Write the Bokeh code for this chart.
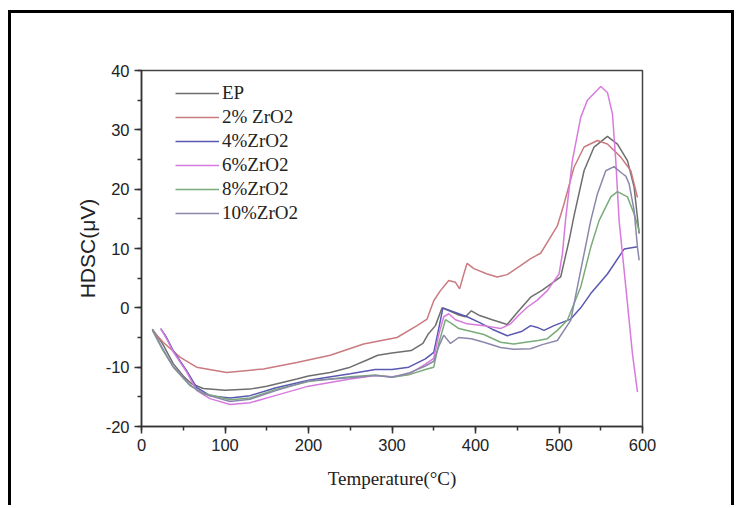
from bokeh.plotting import figure
from bokeh.models import Range1d, SingleIntervalTicker, Legend, LegendItem, PrintfTickFormatter
from bokeh.embed import file_html
from bokeh.resources import INLINE

series_names = ["EP", "2% ZrO2", "4%ZrO2", "6%ZrO2", "8%ZrO2", "10%ZrO2"]
series_colors = ["#6e6e6e", "#c97b80", "#5a58b2", "#d77ade", "#7aab7a", "#8a88aa"]

ep_t = [13, 25, 38, 50, 60, 74, 100, 130, 150, 186, 200, 226, 250, 270, 283, 300, 323, 337, 343, 352,
        360, 370, 380, 388, 395, 405, 420, 438, 450, 466, 480, 490, 502, 512, 518, 530, 542, 558, 570,
        582, 590, 596]
ep_v = [-3.6, -6.0, -9.4, -11.5, -12.8, -13.6, -13.9, -13.7, -13.2, -12.0, -11.5, -10.9, -10.0, -8.8,
        -8.0, -7.6, -7.2, -6.0, -4.5, -3.0, 0.0, -0.6, -1.2, -1.5, -0.5, -1.3, -2.0, -2.8, -0.8, 1.8,
        3.0, 4.0, 5.2, 11.3, 15.5, 23.1, 27.1, 28.9, 27.6, 24.8, 20.3, 12.5]

zr2_t = [13, 26, 46, 66, 102, 146, 186, 226, 266, 306, 330, 342, 350, 358, 368, 376, 381, 386, 390, 398,
         414, 426, 438, 454, 466, 478, 488, 498, 506, 518, 530, 546, 558, 574, 586, 594]
zr2_v = [-3.8, -5.8, -8.3, -10.0, -10.9, -10.3, -9.2, -8.0, -6.1, -5.0, -3.0, -1.9, 1.2, 2.9, 4.6, 4.3,
         3.2, 5.7, 7.5, 6.6, 5.7, 5.2, 5.6, 7.1, 8.3, 9.2, 11.5, 13.8, 17.5, 23.7, 27.1, 28.2, 27.6,
         25.4, 23.1, 18.6]

zr4_t = [23, 30, 38, 54, 66, 82, 106, 130, 160, 200, 250, 280, 300, 320, 340, 350, 356, 361, 370, 380,
         390, 405, 420, 438, 455, 466, 474, 482, 494, 514, 526, 538, 558, 578, 594]
zr4_v = [-3.5, -5.0, -7.2, -10.6, -13.4, -14.8, -15.2, -14.8, -13.5, -12.2, -11.1, -10.4, -10.4, -10.0,
         -8.6, -7.5, -3.5, 0.0, -0.5, -1.0, -1.5, -2.5, -3.6, -4.7, -4.0, -3.0, -3.3, -3.8, -3.0, -1.9,
         0.0, 2.4, 5.7, 9.9, 10.3]

zr6_t = [23, 30, 38, 54, 66, 82, 106, 130, 160, 200, 250, 280, 300, 320, 340, 350, 356, 362, 368, 376,
         390, 410, 430, 442, 452, 462, 474, 486, 500, 504, 508, 516, 526, 534, 550, 558, 564, 568, 572,
         582, 588, 594]
zr6_v = [-3.5, -5.2, -7.4, -10.8, -13.9, -15.3, -16.3, -16.0, -14.8, -13.2, -12.0, -11.4, -11.6, -11.2,
         -9.5, -8.5, -4.5, -1.5, -1.0, -2.0, -2.7, -3.0, -3.5, -2.7, -1.2, 0.1, 1.3, 2.9, 5.7, 9.0, 15.0,
         24.8, 32.1, 35.0, 37.3, 36.3, 32.7, 24.8, 14.7, 0.7, -7.8, -14.2]

zr8_t = [13, 25, 38, 58, 74, 106, 130, 160, 200, 250, 280, 300, 320, 340, 350, 356, 364, 372, 380, 395,
         410, 430, 446, 460, 475, 486, 498, 510, 526, 538, 548, 562, 570, 582, 590, 596]
zr8_v = [-3.8, -7.0, -10.0, -13.1, -14.4, -15.5, -15.2, -13.8, -12.4, -11.6, -11.3, -11.7, -11.3, -10.4,
         -10.0, -6.0, -2.0, -2.7, -3.5, -4.0, -4.5, -5.8, -6.1, -5.8, -5.5, -5.2, -3.8, -2.1, 3.5, 10.2,
         14.7, 18.7, 19.6, 18.7, 15.8, 13.0]

zr10_t = [13, 25, 38, 58, 74, 106, 130, 160, 200, 250, 280, 300, 320, 340, 350, 356, 362, 370, 380, 395,
          410, 430, 446, 466, 480, 498, 514, 526, 538, 546, 556, 566, 576, 580, 584, 590, 594, 596]
zr10_v = [-3.6, -6.8, -9.9, -13.0, -14.5, -15.8, -15.4, -14.0, -12.3, -11.8, -11.4, -11.7, -11.0, -9.8,
          -9.0, -6.5, -4.6, -6.0, -5.0, -5.2, -5.8, -6.7, -7.0, -6.9, -6.2, -5.5, -2.1, 6.3, 14.7, 19.2,
          23.1, 23.8, 22.6, 22.2, 20.9, 16.4, 10.2, 8.0]

x_ticks_step = 100
y_ticks_step = 10

p = figure(width=726, height=495, output_backend="svg", toolbar_location=None,
           x_range=Range1d(0, 600), y_range=Range1d(-20, 40),
           min_border_left=130, min_border_right=95, min_border_top=57, min_border_bottom=82)
p.styles = {"border-left": "3px solid black", "border-top": "3px solid black",
            "border-right": "3px solid black", "margin-top": "10px", "margin-left": "8px"}
p.xgrid.visible = False
p.ygrid.visible = False
p.outline_line_color = "#444444"
p.outline_line_width = 1.5
p.background_fill_color = "white"
p.border_fill_color = "white"

p.xaxis.ticker = SingleIntervalTicker(interval=x_ticks_step, num_minor_ticks=2)
p.yaxis.ticker = SingleIntervalTicker(interval=y_ticks_step, num_minor_ticks=2)
p.xaxis.formatter = PrintfTickFormatter(format="%d")
p.yaxis.formatter = PrintfTickFormatter(format="%d")

for ax in (p.xaxis[0], p.yaxis[0]):
    ax.axis_line_color = "#333333"
    ax.axis_line_width = 1.5
    ax.major_tick_line_color = "#333333"
    ax.major_tick_line_width = 1.5
    ax.minor_tick_line_color = "#333333"
    ax.minor_tick_line_width = 1.5
    ax.major_tick_in = 0
    ax.major_tick_out = 7
    ax.minor_tick_in = 0
    ax.minor_tick_out = 4
    ax.major_label_text_font = "Liberation Sans"
    ax.major_label_text_font_size = "16.5px"
    ax.major_label_text_color = "#222222"
    ax.major_label_standoff = 5

p.xaxis.axis_label = "Temperature(°C)"
p.xaxis.axis_label_text_font = "Liberation Serif"
p.xaxis.axis_label_text_font_style = "normal"
p.xaxis.axis_label_text_font_size = "19px"
p.xaxis.axis_label_text_color = "#222222"
p.xaxis.axis_label_standoff = 14

p.yaxis.axis_label = "HDSC(μV)"
p.yaxis.axis_label_text_font = "Liberation Sans"
p.yaxis.axis_label_text_font_style = "normal"
p.yaxis.axis_label_text_font_size = "21px"
p.yaxis.axis_label_text_color = "#222222"
p.yaxis.axis_label_standoff = 4

all_t = [ep_t, zr2_t, zr4_t, zr6_t, zr8_t, zr10_t]
all_v = [ep_v, zr2_v, zr4_v, zr6_v, zr8_v, zr10_v]
items = []
for name, color, t, v in zip(series_names, series_colors, all_t, all_v):
    r = p.line(t, v, line_color=color, line_width=1.5)
    items.append(LegendItem(label=name, renderers=[r]))

legend = Legend(items=items, location=(34, 201))
legend.glyph_width = 44
legend.glyph_height = 24
legend.label_height = 24
legend.label_standoff = 3
legend.spacing = 0
legend.padding = 0
legend.margin = 0
legend.border_line_alpha = 0
legend.background_fill_alpha = 0
legend.label_text_font = "Liberation Serif"
legend.label_text_font_size = "19px"
legend.label_text_color = "#222222"
p.add_layout(legend)

open("out.html", "w").write(file_html(p, INLINE))
